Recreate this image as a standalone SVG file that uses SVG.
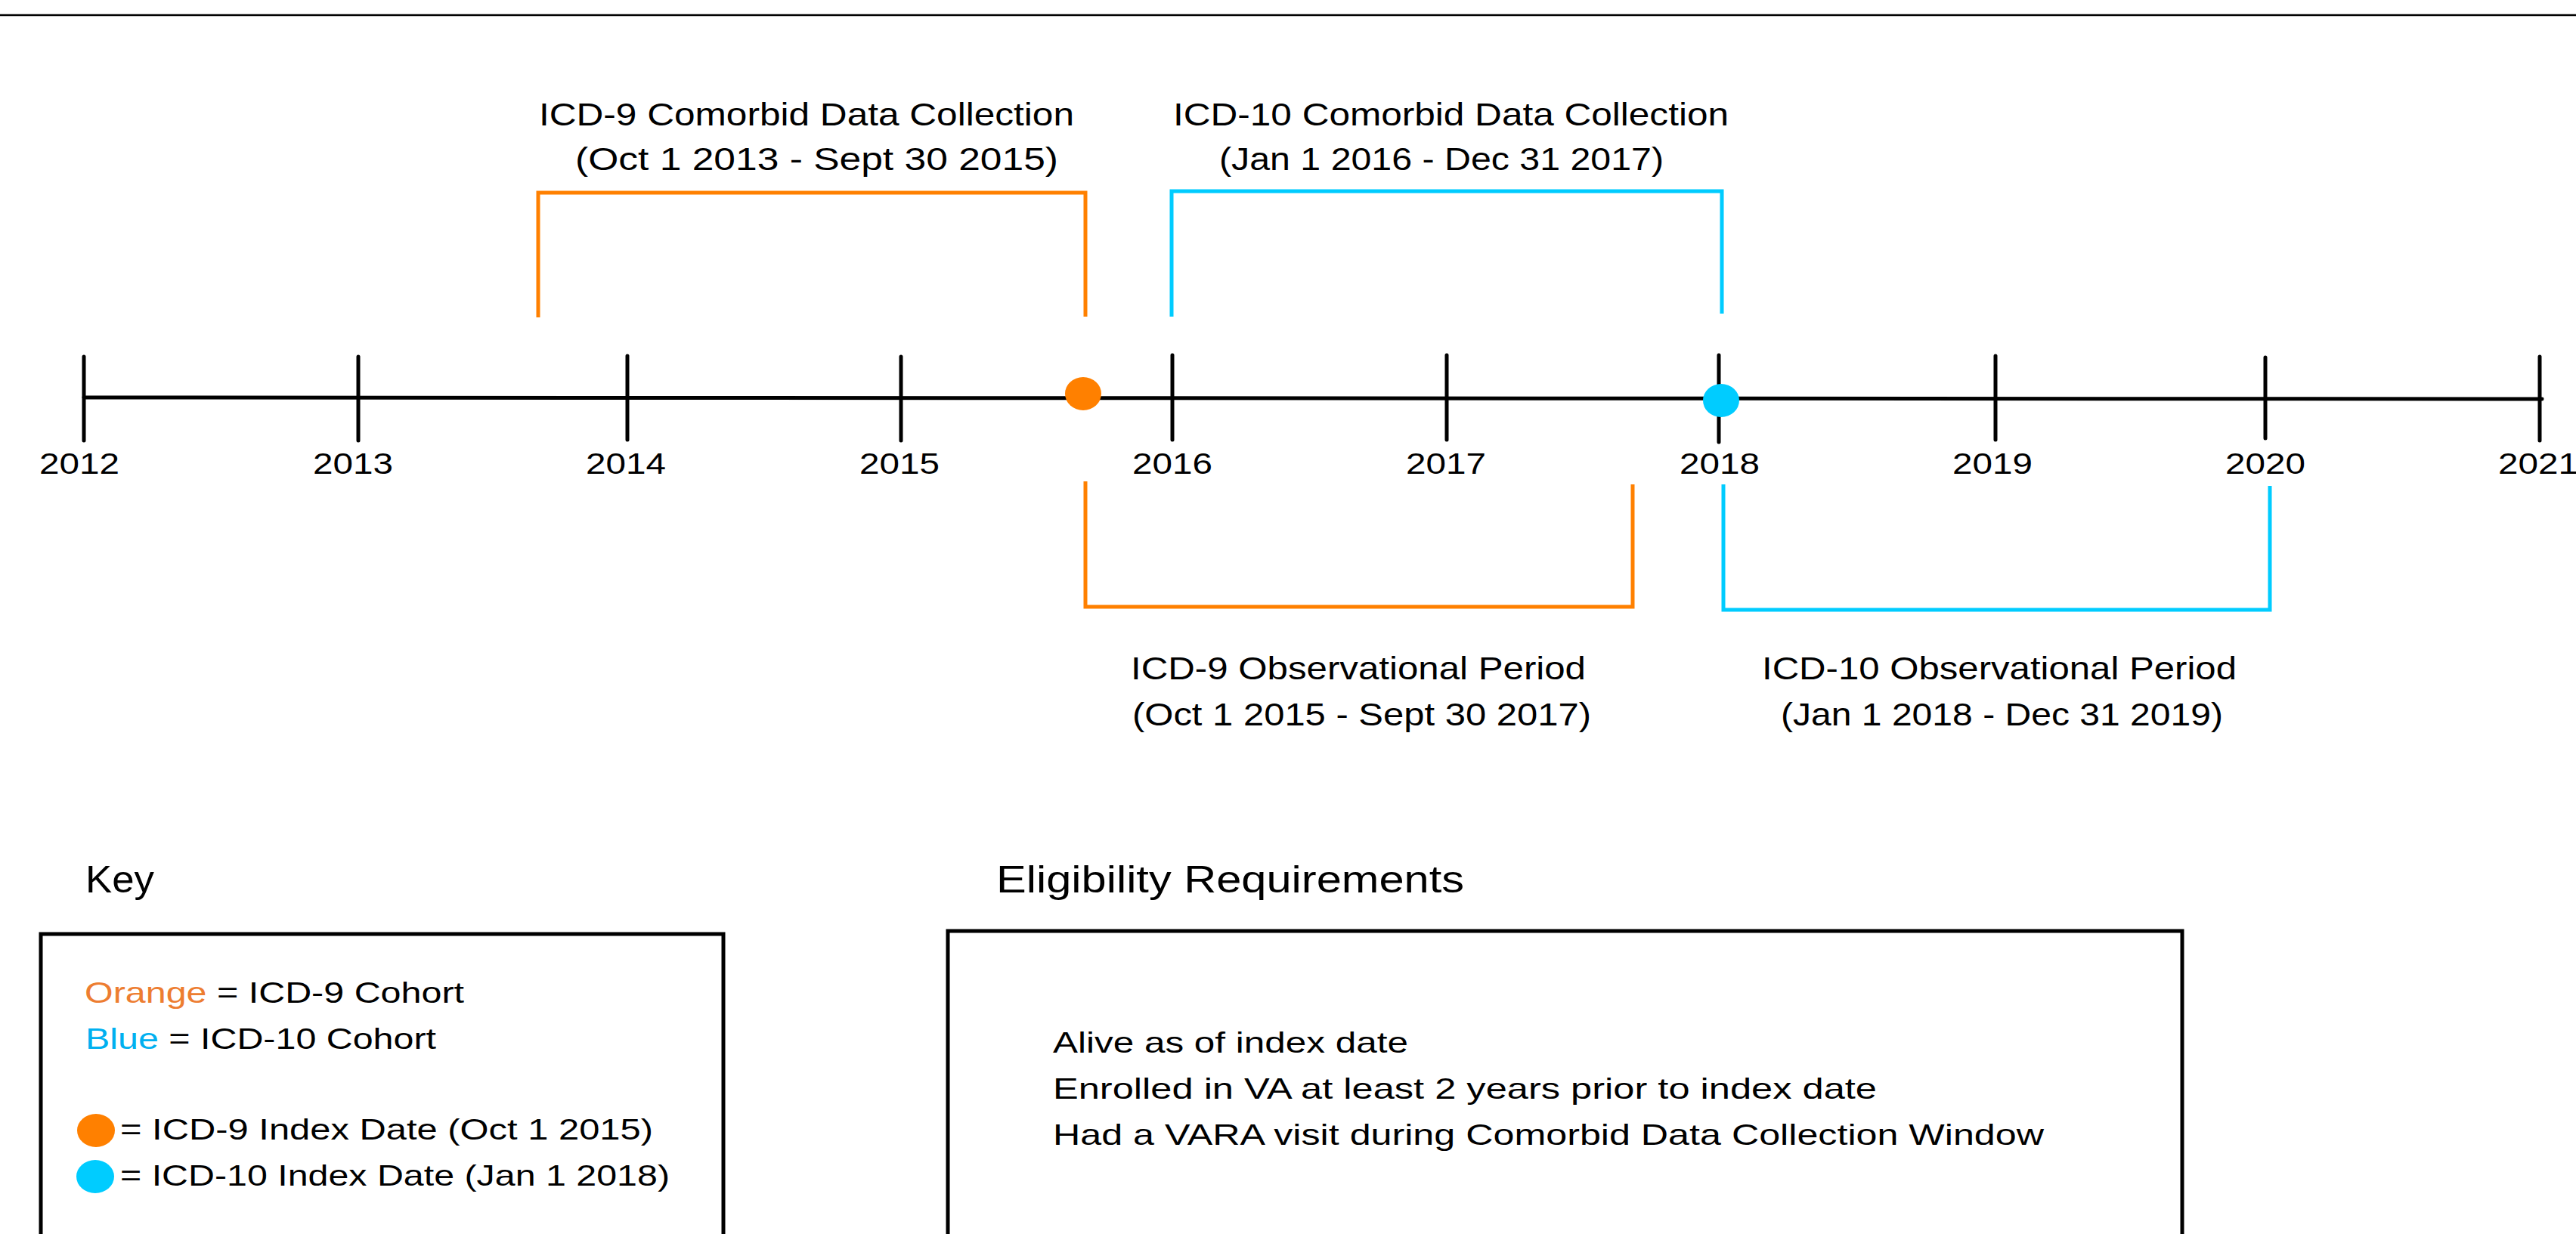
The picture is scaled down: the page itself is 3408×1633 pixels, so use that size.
<svg xmlns="http://www.w3.org/2000/svg" width="3408" height="1633" viewBox="0 0 3408 1633">
<style>
text{font-family:"Liberation Sans",Arial,sans-serif;fill:#000}
.lbl{font-size:42px}
.yr{font-size:38px;text-anchor:middle}
.hd{font-size:50px}
.it{font-size:39px}
.axis{stroke:#000;stroke-width:5;fill:none;stroke-linecap:round}
.or{stroke:#FF8000;stroke-width:5;fill:none;stroke-linejoin:miter}
.cy{stroke:#00CCFF;stroke-width:5;fill:none;stroke-linejoin:miter}
.box{stroke:#000;stroke-width:5;fill:none}
</style>
<rect x="0" y="0" width="3408" height="1633" fill="#fff"/>
<line x1="0" y1="20" x2="3408" y2="20" stroke="#000" stroke-width="2.5"/>
<g id="timeline">
<line class="axis" x1="111" y1="526" x2="3363" y2="528"/>
<g class="ticks">
<line class="axis" x1="111" y1="472" x2="111" y2="583"/>
<line class="axis" x1="474" y1="472" x2="474" y2="583"/>
<line class="axis" x1="830" y1="471" x2="830" y2="582"/>
<line class="axis" x1="1192" y1="472" x2="1192" y2="583"/>
<line class="axis" x1="1551" y1="470" x2="1551" y2="582"/>
<line class="axis" x1="1914" y1="470" x2="1914" y2="582"/>
<line class="axis" x1="2274" y1="470" x2="2274" y2="585"/>
<line class="axis" x1="2640" y1="471" x2="2640" y2="582"/>
<line class="axis" x1="2997" y1="473" x2="2997" y2="580"/>
<line class="axis" x1="3360" y1="472" x2="3360" y2="583"/>
</g>
<g class="years">
<text class="yr" x="105" y="627" textLength="106" lengthAdjust="spacingAndGlyphs">2012</text>
<text class="yr" x="467" y="627" textLength="106" lengthAdjust="spacingAndGlyphs">2013</text>
<text class="yr" x="828" y="627" textLength="106" lengthAdjust="spacingAndGlyphs">2014</text>
<text class="yr" x="1190" y="627" textLength="106" lengthAdjust="spacingAndGlyphs">2015</text>
<text class="yr" x="1551" y="627" textLength="106" lengthAdjust="spacingAndGlyphs">2016</text>
<text class="yr" x="1913" y="627" textLength="106" lengthAdjust="spacingAndGlyphs">2017</text>
<text class="yr" x="2275" y="627" textLength="106" lengthAdjust="spacingAndGlyphs">2018</text>
<text class="yr" x="2636" y="627" textLength="106" lengthAdjust="spacingAndGlyphs">2019</text>
<text class="yr" x="2997" y="627" textLength="106" lengthAdjust="spacingAndGlyphs">2020</text>
<text class="yr" x="3358" y="627" textLength="106" lengthAdjust="spacingAndGlyphs">2021</text>
</g>
</g>
<g id="icd9-comorbid">
<path class="or" d="M712,420 V255 H1436 V419"/>
<text class="lbl" x="713" y="166" textLength="708" lengthAdjust="spacingAndGlyphs">ICD-9 Comorbid Data Collection</text>
<text class="lbl" x="761" y="225" textLength="639" lengthAdjust="spacingAndGlyphs">(Oct 1 2013 - Sept 30 2015)</text>
</g>
<g id="icd10-comorbid">
<path class="cy" d="M1550,419 V253 H2278 V415"/>
<text class="lbl" x="1552" y="166" textLength="735" lengthAdjust="spacingAndGlyphs">ICD-10 Comorbid Data Collection</text>
<text class="lbl" x="1613" y="225" textLength="588" lengthAdjust="spacingAndGlyphs">(Jan 1 2016 - Dec 31 2017)</text>
</g>
<g id="icd9-obs">
<path class="or" d="M1436,637 V803 H2160 V641"/>
<text class="lbl" x="1496" y="899" textLength="602" lengthAdjust="spacingAndGlyphs">ICD-9 Observational Period</text>
<text class="lbl" x="1498" y="960" textLength="607" lengthAdjust="spacingAndGlyphs">(Oct 1 2015 - Sept 30 2017)</text>
</g>
<g id="icd10-obs">
<path class="cy" d="M2280,641 V807 H3003 V643"/>
<text class="lbl" x="2331" y="899" textLength="628" lengthAdjust="spacingAndGlyphs">ICD-10 Observational Period</text>
<text class="lbl" x="2356" y="960" textLength="585" lengthAdjust="spacingAndGlyphs">(Jan 1 2018 - Dec 31 2019)</text>
</g>
<g id="icd9-index">
<ellipse cx="1433" cy="521" rx="24" ry="22" fill="#FF8000"/>
</g>
<g id="icd10-index">
<ellipse cx="2277" cy="530" rx="24" ry="22" fill="#00CCFF"/>
</g>
<g id="key">
<text class="hd" x="113" y="1181" textLength="91" lengthAdjust="spacingAndGlyphs">Key</text>
<rect class="box" x="54" y="1236" width="903" height="500"/>
<text class="it" x="112" y="1327" textLength="502" lengthAdjust="spacingAndGlyphs"><tspan fill="#ED7D31">Orange</tspan> = ICD-9 Cohort</text>
<text class="it" x="113" y="1388" textLength="464" lengthAdjust="spacingAndGlyphs"><tspan fill="#00B0F0">Blue</tspan> = ICD-10 Cohort</text>
<ellipse cx="127" cy="1496" rx="25" ry="22" fill="#FF8000"/>
<text class="it" x="159" y="1508" textLength="705" lengthAdjust="spacingAndGlyphs">= ICD-9 Index Date (Oct 1 2015)</text>
<ellipse cx="126" cy="1557" rx="25" ry="22" fill="#00CCFF"/>
<text class="it" x="159" y="1569" textLength="727" lengthAdjust="spacingAndGlyphs">= ICD-10 Index Date (Jan 1 2018)</text>
</g>
<g id="eligibility">
<text class="hd" x="1318" y="1181" textLength="619" lengthAdjust="spacingAndGlyphs">Eligibility Requirements</text>
<rect class="box" x="1254" y="1232" width="1633" height="500"/>
<text class="it" x="1393" y="1393" textLength="470" lengthAdjust="spacingAndGlyphs">Alive as of index date</text>
<text class="it" x="1393" y="1454" textLength="1090" lengthAdjust="spacingAndGlyphs">Enrolled in VA at least 2 years prior to index date</text>
<text class="it" x="1393" y="1515" textLength="1311" lengthAdjust="spacingAndGlyphs">Had a VARA visit during Comorbid Data Collection Window</text>
</g>
</svg>
